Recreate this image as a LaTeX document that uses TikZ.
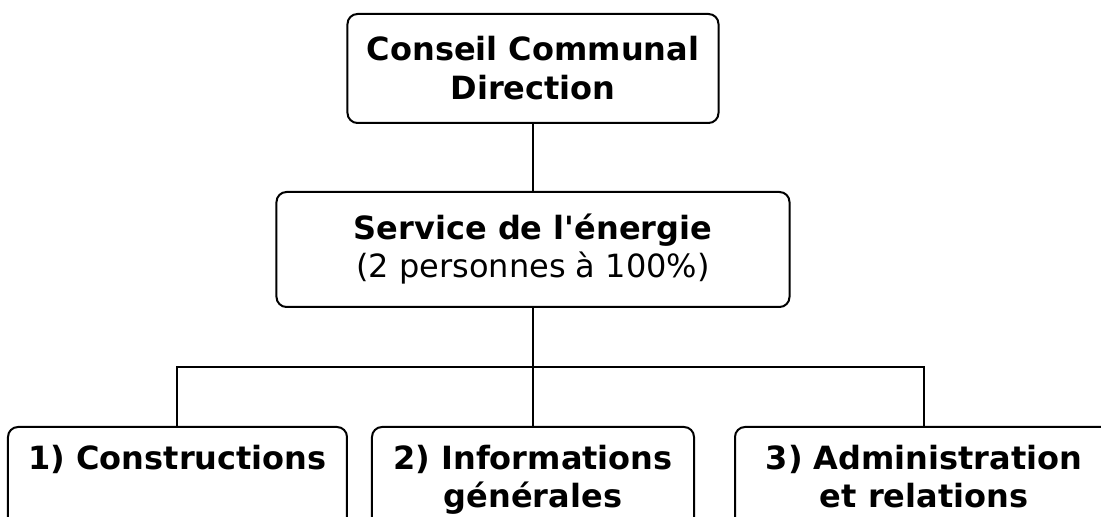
\documentclass[tikz,border=0pt]{standalone}
\usepackage{fontspec}
\setmainfont{DejaVu Sans}
\usetikzlibrary{positioning,calc}

\begin{document}
\begin{tikzpicture}[
    node distance=33.5pt and 11.5pt,
    every node/.style={font=\fontsize{16}{19}\selectfont},
    box/.style={rectangle, draw, line width=1pt, rounded corners=5pt,
                align=center, inner sep=0pt},
    unit/.style={box, minimum height=54pt},
    link/.style={line width=1pt},
]
\clip (-266.5pt,34.25pt) rectangle (284pt,-224.25pt);

% Head and service
\node[box, minimum width=185.5pt, minimum height=54.5pt,
      font=\fontsize{16}{19.5}\selectfont] (head)
  {\bfseries Conseil Communal\\\bfseries Direction};
\node[box, minimum width=256.5pt, minimum height=57.5pt, below=of head] (service)
  {\bfseries Service de l\textquotesingle énergie\\(2 personnes à 100\%)};

% Three units under the service
\node[unit, minimum width=161pt, below=59pt of service] (info)
  {\bfseries 2) Informations\strut\\\bfseries générales\strut};
\node[unit, minimum width=169.5pt, left=of info] (constr)
  {\bfseries 1) Constructions\strut\\\strut};
\node[unit, minimum width=189pt, right=19.5pt of info] (admin)
  {\bfseries 3) Administration\strut\\\bfseries et relations\strut};

% Connectors
\coordinate (bar) at ($(service.south)!0.5!(info.north)$);
\draw[link] (head) -- (service);
\draw[link] (service) -- (info);
\draw[link] (constr.north) |- (bar) -| (admin.north);

\end{tikzpicture}
\end{document}
